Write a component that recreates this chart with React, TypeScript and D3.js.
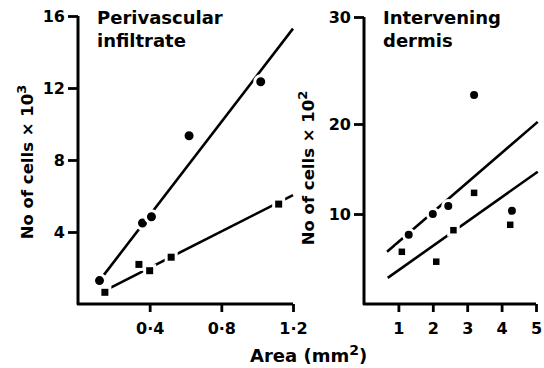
import React, { useEffect, useRef } from 'react';
import * as d3 from 'd3';

// Perivascular infiltrate panel (x: area mm2, y: cells x 10^3)
const periTicksX = [0.4, 0.8, 1.2];
const periTicksY = [4, 8, 12, 16];
const periCircleX = [0.12, 0.36, 0.41, 0.62, 1.02];
const periCircleY = [1.3, 4.5, 4.85, 9.35, 12.35];
const periSquareX = [0.15, 0.34, 0.4, 0.52, 1.12];
const periSquareY = [0.65, 2.2, 1.85, 2.6, 5.55];
const periCircleFit: [number, number][] = [[0.12, 1.3], [1.2, 15.3]];
const periSquareFit: [number, number][] = [[0.18, 0.9], [1.2, 6.05]];

// Intervening dermis panel (x: area mm2, y: cells x 10^2)
const dermTicksX = [1, 2, 3, 4, 5];
const dermTicksY = [10, 20, 30];
const dermCircleX = [1.3, 2.0, 2.45, 3.2, 4.3];
const dermCircleY = [7.7, 10.0, 10.9, 22.7, 10.35];
const dermSquareX = [1.1, 2.1, 2.6, 3.2, 4.25];
const dermSquareY = [5.8, 4.7, 8.2, 12.35, 8.8];
const dermCircleFit: [number, number][] = [[0.67, 5.8], [5.05, 20.2]];
const dermSquareFit: [number, number][] = [[0.69, 2.9], [5.05, 14.7]];

const FONT = '"DejaVu Sans", sans-serif';
const fmt = (d: number) => String(d).replace('.', '·');

export default function App() {
  const svgRef = useRef<SVGSVGElement>(null);

  useEffect(() => {
    if (!svgRef.current) return;
    const svg = d3.select(svgRef.current);
    svg.selectAll('*').remove();

    const drawPanel = (opts: {
      x: d3.ScaleLinear<number, number>;
      y: d3.ScaleLinear<number, number>;
      ticksX: number[];
      ticksY: number[];
      cx: number[]; cy: number[];
      sx: number[]; sy: number[];
      fits: [number, number][][];
      r: number; side: number;
      title: string[];
    }) => {
      const { x, y } = opts;
      const g = svg.append('g');
      const [x0, x1] = x.range();
      const [y0, y1] = [y.range()[0], y.range()[y.range().length - 1]];

      // axes (ticks via d3, domain drawn as one L-shaped path)
      const ax = g.append('g')
        .attr('transform', `translate(0,${y0})`)
        .call(d3.axisBottom(x).tickValues(opts.ticksX).tickFormat((d: any) => fmt(d)).tickSize(8).tickSizeOuter(0).tickPadding(11));
      const ay = g.append('g')
        .attr('transform', `translate(${x0},0)`)
        .call(d3.axisLeft(y).tickValues(opts.ticksY).tickFormat((d: any) => fmt(d)).tickSize(10).tickSizeOuter(0).tickPadding(3));
      [ax, ay].forEach(a => {
        a.select('.domain').remove();
        a.selectAll('line').attr('stroke', '#000').attr('stroke-width', 2.8);
        a.selectAll('text')
          .attr('fill', '#000')
          .attr('font-family', FONT)
          .attr('font-weight', 'bold')
          .attr('font-size', 16);
      });
      g.append('path')
        .attr('d', d3.line()([[x0, y1], [x0, y0], [x1, y0]]))
        .attr('fill', 'none')
        .attr('stroke', '#000')
        .attr('stroke-width', 3)
        .attr('stroke-linejoin', 'round');

      // fitted lines
      opts.fits.forEach(f => {
        g.append('path')
          .attr('d', d3.line().x((p: any) => x(p[0])).y((p: any) => y(p[1]))(f as any))
          .attr('fill', 'none')
          .attr('stroke', '#000')
          .attr('stroke-width', 2.6);
      });

      // markers with white halo to break the lines
      opts.sx.forEach((v, i) => {
        g.append('rect')
          .attr('x', x(v) - opts.side / 2)
          .attr('y', y(opts.sy[i]) - opts.side / 2)
          .attr('width', opts.side)
          .attr('height', opts.side)
          .attr('fill', '#000')
          .attr('stroke', '#fff')
          .attr('stroke-width', 3);
      });
      opts.cx.forEach((v, i) => {
        g.append('circle')
          .attr('cx', x(v))
          .attr('cy', y(opts.cy[i]))
          .attr('r', opts.r)
          .attr('fill', '#000')
          .attr('stroke', '#fff')
          .attr('stroke-width', 3);
      });

      const t = g.append('text')
        .attr('font-family', FONT)
        .attr('font-weight', 'bold')
        .attr('font-size', 18)
        .attr('fill', '#000');
      opts.title.forEach((s, i) => {
        t.append('tspan').attr('x', x0 + 19).attr('y', 24 + i * 23).text(s);
      });
    };

    drawPanel({
      x: d3.scaleLinear().domain([0, 1.2]).range([78, 293]),
      y: d3.scaleLinear().domain([0, 16]).range([304, 16]),
      ticksX: periTicksX, ticksY: periTicksY,
      cx: periCircleX, cy: periCircleY,
      sx: periSquareX, sy: periSquareY,
      fits: [periCircleFit, periSquareFit],
      r: 6, side: 10,
      title: ['Perivascular', 'infiltrate'],
    });

    drawPanel({
      x: d3.scaleLinear().domain([0, 5]).range([364, 536]),
      y: d3.scaleLinear().domain([0, 10, 20, 30]).range([304, 214, 124, 17]),
      ticksX: dermTicksX, ticksY: dermTicksY,
      cx: dermCircleX, cy: dermCircleY,
      sx: dermSquareX, sy: dermSquareY,
      fits: [dermCircleFit, dermSquareFit],
      r: 5.5, side: 9.5,
      title: ['Intervening', 'dermis'],
    });

    const yLabel = (cx: number, cy: number, sup: string) => {
      const t = svg.append('text')
        .attr('transform', `translate(${cx},${cy}) rotate(-90)`)
        .attr('text-anchor', 'middle')
        .attr('font-family', FONT)
        .attr('font-weight', 'bold')
        .attr('font-size', 16.5)
        .attr('fill', '#000');
      t.append('tspan').text('No of cells × 10');
      t.append('tspan').attr('dy', -7).attr('font-size', 13).text(sup);
    };
    yLabel(33, 162, '3');
    yLabel(314, 168, '2');

    const xl = svg.append('text')
      .attr('x', 250)
      .attr('y', 362)
      .attr('font-family', FONT)
      .attr('font-weight', 'bold')
      .attr('font-size', 18)
      .attr('fill', '#000');
    xl.append('tspan').text('Area (mm');
    xl.append('tspan').attr('dy', -7).attr('font-size', 14).text('2');
    xl.append('tspan').attr('dy', 7).text(')');
  }, []);

  return (
    <svg
      ref={svgRef}
      width={544}
      height={368}
      style={{ position: 'absolute', left: 0, top: 0, background: '#fff', display: 'block' }}
    />
  );
}
